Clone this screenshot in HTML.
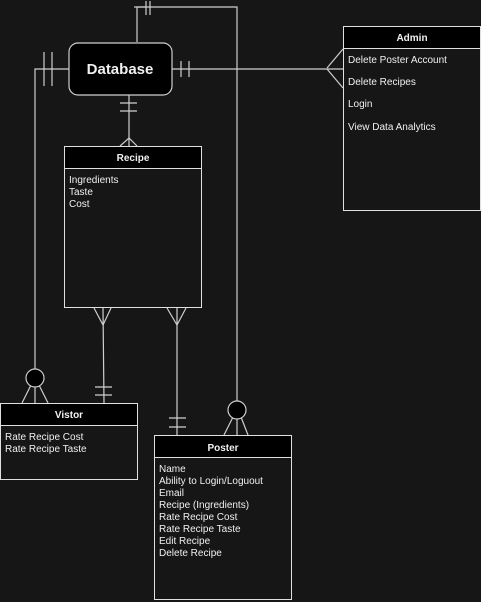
<!DOCTYPE html>
<html><head><style>
body{margin:0;width:481px;height:602px;background:#161616;overflow:hidden;font-family:"Liberation Sans",sans-serif;}
svg{position:absolute;left:0;top:0}
.t{fill:#f0f0f0;font-size:10px;font-family:"Liberation Sans",sans-serif}
</style></head><body>
<svg width="481" height="602" viewBox="0 0 481 602">
<g stroke="#cfcfcf" stroke-width="1.2" fill="none">
<!-- top loop -->
<polyline points="137,42 137,7 237,7 237,402"/>
<line x1="134" y1="7" x2="145" y2="7"/>
<line x1="146" y1="1" x2="146" y2="15"/><line x1="150" y1="1" x2="150" y2="15"/>
<!-- left -->
<polyline points="69,69 35,69 35,369"/>
<line x1="44" y1="52" x2="44" y2="86"/><line x1="52" y1="52" x2="52" y2="86"/>
<line x1="35" y1="386" x2="35" y2="403"/><line x1="31" y1="385" x2="22" y2="403"/><line x1="39" y1="385" x2="48" y2="403"/>
<!-- right -->
<line x1="172" y1="69" x2="343" y2="69"/>
<line x1="181" y1="61" x2="181" y2="77"/><line x1="189" y1="61" x2="189" y2="77"/>
<line x1="343" y1="49" x2="327" y2="68"/><line x1="343" y1="88" x2="327" y2="69"/>
<!-- bottom -->
<line x1="129" y1="95" x2="129" y2="146"/>
<line x1="120" y1="103" x2="137" y2="103"/><line x1="120" y1="111" x2="137" y2="111"/>
<line x1="120" y1="146" x2="129" y2="138"/><line x1="137" y1="146" x2="129" y2="138"/>
<!-- recipe to vistor -->
<line x1="103" y1="308" x2="104" y2="403"/>
<line x1="94" y1="308" x2="103" y2="325"/><line x1="111" y1="308" x2="103" y2="325"/>
<line x1="95" y1="387" x2="112" y2="387"/><line x1="95" y1="395" x2="112" y2="395"/>
<!-- recipe to poster -->
<line x1="177" y1="308" x2="177" y2="435"/>
<line x1="167" y1="308" x2="177" y2="325"/><line x1="186" y1="308" x2="177" y2="325"/>
<line x1="169" y1="418" x2="186" y2="418"/><line x1="169" y1="427" x2="186" y2="427"/>
<!-- poster circle legs -->
<line x1="237" y1="418" x2="237" y2="435"/><line x1="233" y1="417" x2="224" y2="435"/><line x1="241" y1="417" x2="248" y2="435"/>
</g>
<circle cx="35" cy="378" r="9" fill="#000" stroke="#cfcfcf" stroke-width="1.2"/>
<circle cx="237" cy="410" r="9" fill="#000" stroke="#cfcfcf" stroke-width="1.2"/>
<!-- Database -->
<rect x="69" y="43" width="103" height="52" rx="9" fill="#000" stroke="#cfcfcf" stroke-width="1.2"/>
<text x="120" y="74" text-anchor="middle" fill="#f0f0f0" font-size="15" font-weight="bold" font-family="Liberation Sans,sans-serif">Database</text>
<!-- Admin -->
<rect x="343.5" y="26.5" width="137" height="184" fill="#161616" stroke="#e0e0e0"/>
<rect x="343.5" y="26.5" width="137" height="22" fill="#000" stroke="#e0e0e0"/>
<text class="t" x="412" y="41" text-anchor="middle" font-weight="bold">Admin</text>
<text class="t" x="348" y="63">Delete Poster Account</text>
<text class="t" x="348" y="85">Delete Recipes</text>
<text class="t" x="348" y="107">Login</text>
<text class="t" x="348" y="130">View Data Analytics</text>
<!-- Recipe -->
<rect x="64.5" y="146.5" width="137" height="161" fill="#161616" stroke="#e0e0e0"/>
<rect x="64.5" y="146.5" width="137" height="22" fill="#000" stroke="#e0e0e0"/>
<text class="t" x="133" y="161" text-anchor="middle" font-weight="bold">Recipe</text>
<text class="t" x="69" y="183">Ingredients</text>
<text class="t" x="69" y="195">Taste</text>
<text class="t" x="69" y="207">Cost</text>
<!-- Vistor -->
<rect x="0.5" y="403.5" width="137" height="76" fill="#161616" stroke="#e0e0e0"/>
<rect x="0.5" y="403.5" width="137" height="22" fill="#000" stroke="#e0e0e0"/>
<text class="t" x="69" y="418" text-anchor="middle" font-weight="bold">Vistor</text>
<text class="t" x="5" y="440">Rate Recipe Cost</text>
<text class="t" x="5" y="452">Rate Recipe Taste</text>
<!-- Poster -->
<rect x="154.5" y="435.5" width="137" height="164" fill="#161616" stroke="#e0e0e0"/>
<rect x="154.5" y="435.5" width="137" height="22" fill="#000" stroke="#e0e0e0"/>
<text class="t" x="223" y="451" text-anchor="middle" font-weight="bold">Poster</text>
<text class="t" x="159" y="472">Name</text>
<text class="t" x="159" y="484">Ability to Login/Loguout</text>
<text class="t" x="159" y="496">Email</text>
<text class="t" x="159" y="508">Recipe (Ingredients)</text>
<text class="t" x="159" y="520">Rate Recipe Cost</text>
<text class="t" x="159" y="532">Rate Recipe Taste</text>
<text class="t" x="159" y="544">Edit Recipe</text>
<text class="t" x="159" y="556">Delete Recipe</text>
</svg>
</body></html>
